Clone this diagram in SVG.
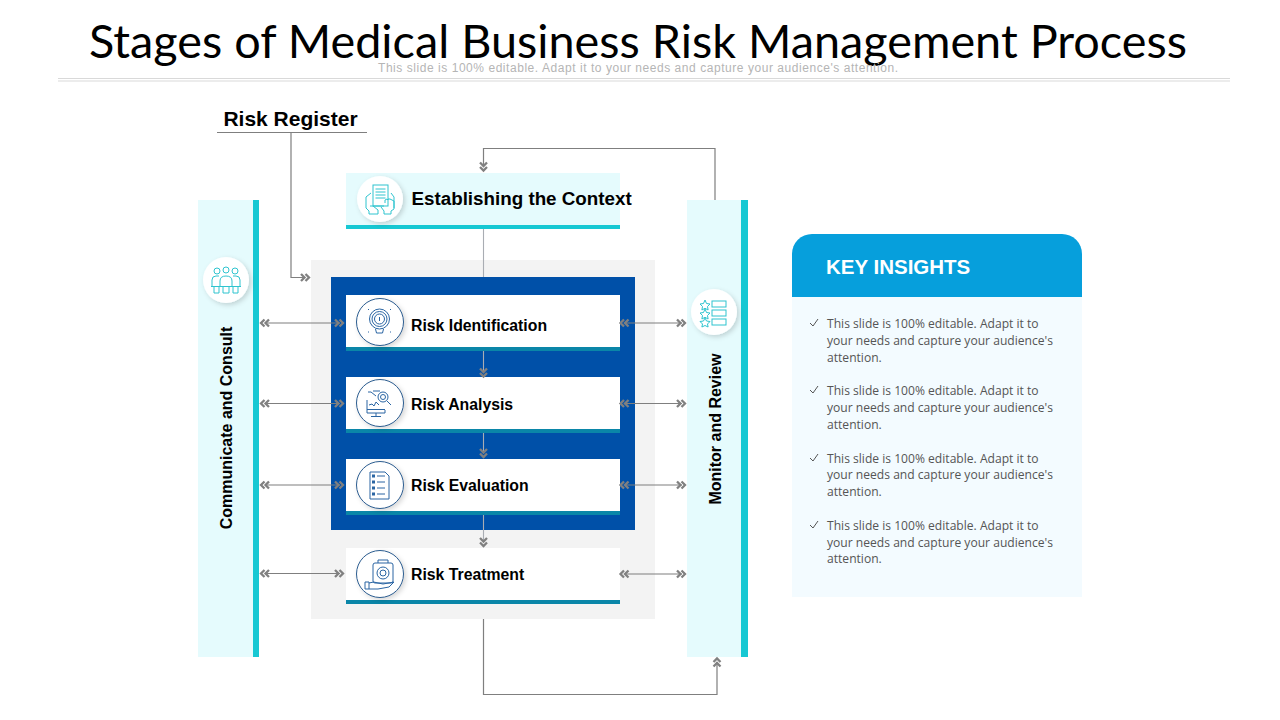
<svg xmlns="http://www.w3.org/2000/svg" xmlns:xlink="http://www.w3.org/1999/xlink" width="1280" height="720" viewBox="0 0 1280 720">
<style>
text{font-family:"Liberation Sans",Arial,sans-serif}
.b{font-weight:700;fill:#000}
.lab{font-size:15.800px}
.ln{fill:none;stroke:#7f7f7f;stroke-width:1.2}
.lt{fill:none;stroke:#a9adb3;stroke-width:1.100}
.chev{fill:none;stroke:#808080;stroke-width:2.300}
.tq{fill:none;stroke:#2ec4cf;stroke-width:1}
.nv{fill:none;stroke:#2a65a3;stroke-width:1}
.bd{font-family:"Open Sans","Noto Sans",sans-serif;font-size:12.100px;fill:#555}
.ck{fill:none;stroke:#555;stroke-width:1}
.ic{fill:#fff;filter:url(#s)}
.icn{fill:#fff;stroke:#2b5c8f;stroke-width:1;filter:url(#s)}
</style>
<defs>
<filter id="s" x="-30%" y="-30%" width="170%" height="170%"><feDropShadow dx="2" dy="2" stdDeviation="2.500" flood-color="#000" flood-opacity=".16"/></filter>
<g id="cr"><path class="chev" d="M-6-3.500-2.500 0-6 3.500M-1.500-3.500 2 0-1.500 3.500"/></g>
<g id="cl"><path class="chev" d="M6-3.500 2.500 0 6 3.500M1.500-3.500-2 0 1.500 3.500"/></g>
<g id="cd"><path class="chev" d="M-3.500-6 0-2.500 3.500-6M-3.500-1.500 0 2 3.500-1.500"/></g>
<g id="cu"><path class="chev" d="M-3.500 6 0 2.500 3.500 6M-3.500 1.500 0-2 3.500 1.500"/></g>
</defs>
<rect width="1280" height="720" fill="#fff"/>
<g id="header">
<text x="638" y="58" text-anchor="middle" textLength="1098" lengthAdjust="spacingAndGlyphs" style="font-family:Lato,'Liberation Sans',sans-serif;font-size:46px;font-weight:400" fill="#000">Stages of Medical Business Risk Management Process</text>
<text x="638" y="72" text-anchor="middle" textLength="520" lengthAdjust="spacing" font-size="12" fill="#b5b5b5">This slide is 100% editable. Adapt it to your needs and capture your audience's attention.</text>
<path d="M58 78.500H1230M58 81H1230" stroke="#d9d9d9" stroke-width="1.200" fill="none"/>
</g>
<g id="node-risk-treatment-bg"><rect x="311" y="260" width="344" height="359" fill="#f3f3f3"/></g>
<g id="node-inner-block"><rect x="331" y="277" width="304" height="253" fill="#0050a8"/></g>
<g id="node-communicate">
<rect x="198" y="200" width="55" height="457" fill="#e5fbfd"/><rect x="253" y="200" width="6" height="457" fill="#16c8d3"/>
<circle cx="226" cy="280" r="23" class="ic"/>
<g class="tq"><circle cx="217" cy="271" r="3"/><circle cx="226" cy="270" r="3"/><circle cx="235" cy="271" r="3"/><path d="M212 287v-7q0-4 4-4h3M240 287v-7q0-4-4-4h-3M220 286v-5q0-5 6-5t6 5v5M211 286.500H241M214 287v6h5v-6M223 287v6h6v-6M233 287v6h5v-6"/></g>
<text class="b" transform="translate(231.500 428) rotate(-90)" text-anchor="middle" font-size="16">Communicate and Consult</text>
</g>
<g id="node-monitor">
<rect x="687" y="200" width="54" height="457" fill="#e5fbfd"/><rect x="741" y="200" width="7" height="457" fill="#16c8d3"/>
<circle cx="714" cy="312" r="23" class="ic"/>
<g class="tq"><path d="M705 300l1.500 3.500 3.500.5-2.500 2.500.6 3.500-3.100-1.700-3.100 1.700.6-3.500-2.500-2.500 3.500-.5zM705 309l1.500 3.500 3.500.5-2.500 2.500.6 3.500-3.100-1.700-3.100 1.700.6-3.500-2.500-2.500 3.500-.5zM705 318l1.500 3 3.500.5-2.500 2.500.6 3-3.100-1.500-3.100 1.500.6-3-2.500-2.500 3.500-.5z"/><rect x="712" y="301" width="14" height="6"/><rect x="712" y="310" width="14" height="6"/><rect x="712" y="319" width="14" height="6"/></g>
<text class="b" transform="translate(720.500 429) rotate(-90)" text-anchor="middle" font-size="16">Monitor and Review</text>
</g>
<g id="node-context">
<rect x="346" y="173" width="274" height="52" fill="#e5fbfd"/><rect x="346" y="225" width="274" height="4" fill="#16c8d3"/>
<circle cx="380" cy="199" r="23" class="ic"/>
<g class="tq"><rect x="373" y="185" width="15" height="21"/><path d="M375.500 189h10M375.500 192h10M375.500 195h10M375.500 198h10M366 208v-11l5-4M366 208l3 3v3h9v-4l-5-4M370 206h14M394 208v-11l-3-4M385 203v-3l2-1 1 1v-1l2 0 2 1 2 1v8l-3 2v3h-7v-3l-3-4"/></g>
<text class="b" x="411.500" y="205" font-size="18.800">Establishing the Context</text>
</g>
<g id="node-identification">
<rect x="346" y="295" width="274" height="52" fill="#fff"/><rect x="346" y="347" width="274" height="4" fill="#0a86a8"/>
<circle cx="380" cy="322" r="23.500" class="icn"/>
<g class="nv"><circle cx="379.500" cy="319" r="10"/><circle cx="379.500" cy="319" r="7.500"/><circle cx="379.500" cy="319" r="5"/><path d="M379.500 317v4M375.500 329l1 4h6l1-4"/><path stroke-dasharray="1 1" d="M368 309.500h1M390 309.500h1M368 332h1M390 332h1"/></g>
<text class="b lab" x="411" y="331">Risk Identification</text>
</g>
<g id="node-analysis">
<rect x="346" y="377" width="274" height="52" fill="#fff"/><rect x="346" y="429" width="274" height="4" fill="#0a86a8"/>
<circle cx="380" cy="403" r="23.500" class="icn"/>
<g class="nv"><path d="M367 400v13h18v-3M367 409.500h18M376 413v3M371 416.500h10M369 405l3-1 2 2 2-4 3 3M368 392h3l5 4M373 391h7"/><circle cx="383" cy="397" r="5"/><circle cx="383" cy="397" r="2.500"/><path d="M387 401l4 4"/></g>
<text class="b lab" x="411" y="410">Risk Analysis</text>
</g>
<g id="node-evaluation">
<rect x="346" y="459" width="274" height="52" fill="#fff"/><rect x="346" y="511" width="274" height="4" fill="#0a86a8"/>
<circle cx="380" cy="485" r="23.500" class="icn"/>
<g class="nv"><path d="M370 472h15l4 4v23h-19zM377 476h8M377 482h8M377 488h8M377 494h8"/><rect x="372.500" y="475" width="2" height="2"/><rect x="372.500" y="481" width="2" height="2"/><rect x="372.500" y="487" width="2" height="2"/><rect x="372.500" y="493" width="2" height="2"/></g>
<text class="b lab" x="411" y="491">Risk Evaluation</text>
</g>
<g id="node-treatment">
<rect x="346" y="548" width="274" height="52" fill="#fff"/><rect x="346" y="600" width="274" height="4" fill="#0a86a8"/>
<circle cx="380" cy="574" r="23.500" class="icn"/>
<g class="nv"><rect x="373" y="563" width="20" height="20" rx="2"/><path d="M378 563v-3h10v3M365 582h4v7h-4zM369 583q5-2 9 0l5 1 11-2-5 5-11 2h-9"/><circle cx="383" cy="573" r="6"/><circle cx="383" cy="573" r="3"/></g>
<text class="b lab" x="411" y="580">Risk Treatment</text>
</g>
<g id="node-risk-register">
<text class="b" x="290.500" y="126" text-anchor="middle" font-size="21">Risk Register</text>
</g>
<g id="connectors">
<path class="ln" d="M217 132.500H367M291 132.500V277.500H303"/>
<path class="ln" d="M715 200V148.500H483.500V165"/><use xlink:href="#cd" x="483.500" y="168.500"/>
<path class="lt" d="M483.500 229V277M483.500 351V372M483.500 433V452M483.500 515V541"/>
<use xlink:href="#cd" x="483.500" y="374.500"/>
<use xlink:href="#cd" x="483.500" y="455"/>
<use xlink:href="#cd" x="483.500" y="544"/>
<path class="ln" d="M483.500 619V694.500H717V662"/><use xlink:href="#cu" x="717" y="660.500"/>
<use xlink:href="#cr" x="307" y="277.500"/>
<g id="left-links">
<path class="ln" d="M265 323H340M265 403.500H340M265 485H340M265 573.500H340"/>
<use xlink:href="#cl" x="263" y="323"/><use xlink:href="#cr" x="341" y="323"/>
<use xlink:href="#cl" x="263" y="403.500"/><use xlink:href="#cr" x="341" y="403.500"/>
<use xlink:href="#cl" x="263" y="485"/><use xlink:href="#cr" x="341" y="485"/>
<use xlink:href="#cl" x="263" y="573.500"/><use xlink:href="#cr" x="341" y="573.500"/>
</g>
<g id="right-links">
<path class="ln" d="M625 323H682M625 403.500H682M625 485H682M625 574H682"/>
<use xlink:href="#cl" x="622.500" y="323"/><use xlink:href="#cr" x="683" y="323"/>
<use xlink:href="#cl" x="622.500" y="403.500"/><use xlink:href="#cr" x="683" y="403.500"/>
<use xlink:href="#cl" x="622.500" y="485"/><use xlink:href="#cr" x="683" y="485"/>
<use xlink:href="#cl" x="622.500" y="574"/><use xlink:href="#cr" x="683" y="574"/>
</g>
</g>
<g id="node-key-insights">
<path d="M792 297H1082V597H792z" fill="#f3fbff"/>
<path d="M792 297V254a20 20 0 0 1 20-20H1062a20 20 0 0 1 20 20V297z" fill="#069fdc"/>
<text x="826" y="274" font-size="20.500" font-weight="700" fill="#fff">KEY INSIGHTS</text>
<path class="ck" d="M810 323l3 3 5-7M810 390l3 3 5-7M810 458l3 3 5-7M810 525l3 3 5-7"/>
<text class="bd"><tspan x="827" y="328">This slide is 100% editable. Adapt it to</tspan><tspan x="827" y="345">your needs and capture your audience's</tspan><tspan x="827" y="362">attention.</tspan></text>
<text class="bd"><tspan x="827" y="395">This slide is 100% editable. Adapt it to</tspan><tspan x="827" y="412">your needs and capture your audience's</tspan><tspan x="827" y="429">attention.</tspan></text>
<text class="bd"><tspan x="827" y="463">This slide is 100% editable. Adapt it to</tspan><tspan x="827" y="479">your needs and capture your audience's</tspan><tspan x="827" y="496">attention.</tspan></text>
<text class="bd"><tspan x="827" y="530">This slide is 100% editable. Adapt it to</tspan><tspan x="827" y="547">your needs and capture your audience's</tspan><tspan x="827" y="563">attention.</tspan></text>
</g>
</svg>
